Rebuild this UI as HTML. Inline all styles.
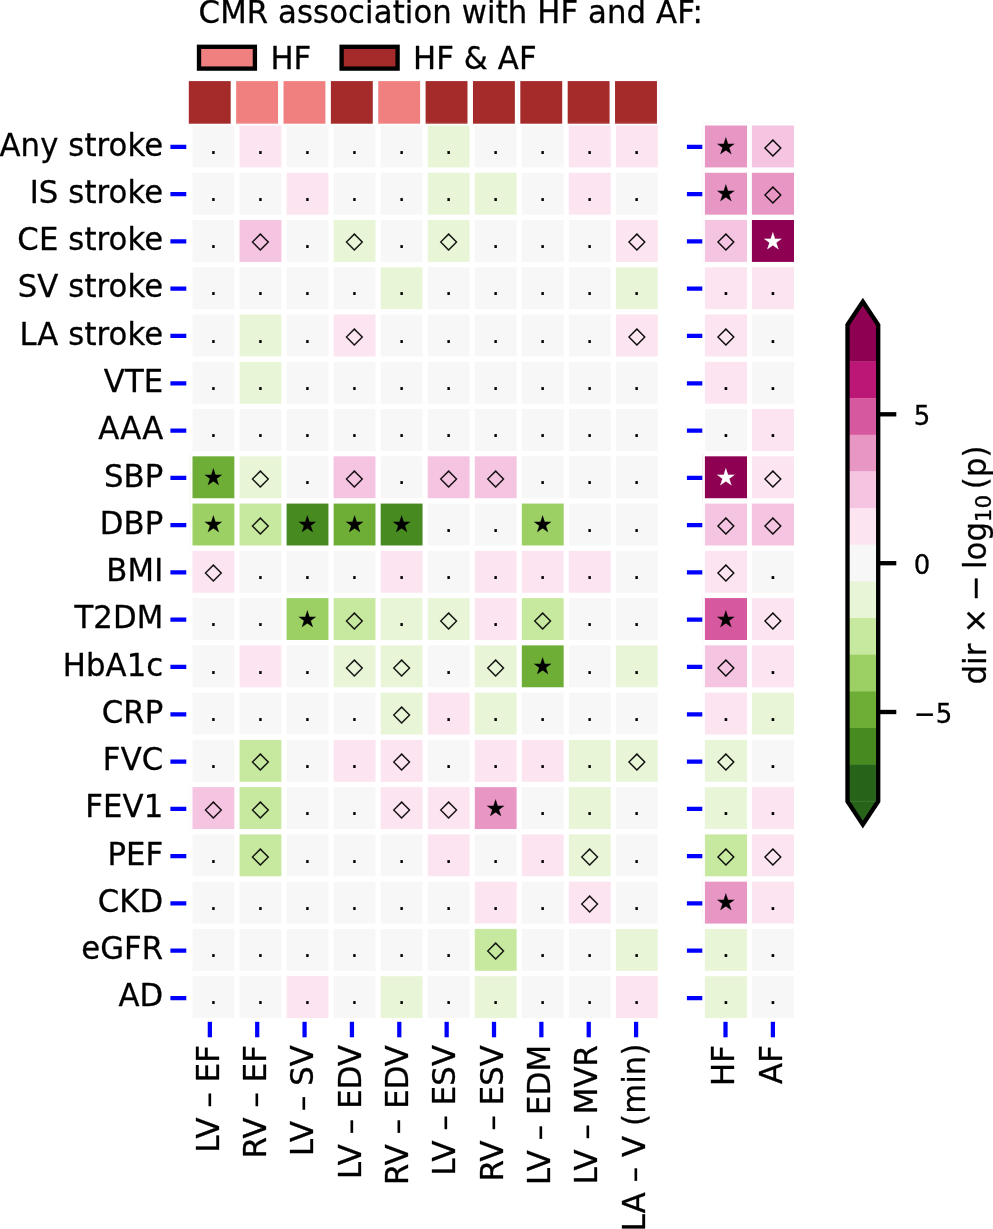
<!DOCTYPE html>
<html lang="en"><head><meta charset="utf-8"><title>CMR association with HF and AF</title>
<style>html,body{margin:0;padding:0;background:#fff}svg{display:block}</style></head>
<body>
<svg width="993" height="1229" viewBox="0 0 993 1229" font-family="'DejaVu Sans', 'Liberation Sans', sans-serif" font-size="30.74" fill="#000" letter-spacing="0.1">
<style>text{stroke:#000;stroke-width:.3px;stroke-linejoin:round}text.w{stroke:#fff}.a text{stroke-width:.15px}</style>
<rect width="993" height="1229" fill="#fff"/>
<text transform="translate(198.6 23) scale(1 1.022)">CMR association with HF and AF:</text>
<rect x="199" y="46.8" width="55.9" height="21.8" fill="#f08080" stroke="#000" stroke-width="4.34"/>
<text transform="translate(270.4 69) scale(1 1.022)">HF</text>
<rect x="341.6" y="46.8" width="56" height="21.8" fill="#a52a2a" stroke="#000" stroke-width="4.34"/>
<text transform="translate(413 69) scale(1 1.022)">HF &amp; AF</text>
<g shape-rendering="auto">
<rect x="188.8" y="81.1" width="41.9" height="42.6" fill="#a52a2a"/>
<rect x="236.16" y="81.1" width="41.9" height="42.6" fill="#f08080"/>
<rect x="283.52" y="81.1" width="41.9" height="42.6" fill="#f08080"/>
<rect x="330.88" y="81.1" width="41.9" height="42.6" fill="#a52a2a"/>
<rect x="378.24" y="81.1" width="41.9" height="42.6" fill="#f08080"/>
<rect x="425.6" y="81.1" width="41.9" height="42.6" fill="#a52a2a"/>
<rect x="472.96" y="81.1" width="41.9" height="42.6" fill="#a52a2a"/>
<rect x="520.32" y="81.1" width="41.9" height="42.6" fill="#a52a2a"/>
<rect x="567.68" y="81.1" width="41.9" height="42.6" fill="#a52a2a"/>
<rect x="615.04" y="81.1" width="41.9" height="42.6" fill="#a52a2a"/>
<rect x="192.5" y="125.5" width="41.85" height="41.9" fill="#f7f7f7"/>
<rect x="239.55" y="125.5" width="41.85" height="41.9" fill="#fce4f0"/>
<rect x="286.59" y="125.5" width="41.85" height="41.9" fill="#f7f7f7"/>
<rect x="333.63" y="125.5" width="41.85" height="41.9" fill="#f7f7f7"/>
<rect x="380.68" y="125.5" width="41.85" height="41.9" fill="#f7f7f7"/>
<rect x="427.73" y="125.5" width="41.85" height="41.9" fill="#e9f5d7"/>
<rect x="474.77" y="125.5" width="41.85" height="41.9" fill="#f7f7f7"/>
<rect x="521.82" y="125.5" width="41.85" height="41.9" fill="#f7f7f7"/>
<rect x="568.86" y="125.5" width="41.85" height="41.9" fill="#fce4f0"/>
<rect x="615.9" y="125.5" width="41.85" height="41.9" fill="#fce4f0"/>
<rect x="704.9" y="125.5" width="42.1" height="41.9" fill="#e896c4"/>
<rect x="751.9" y="125.5" width="42.1" height="41.9" fill="#f5c4e1"/>
<rect x="192.5" y="172.76" width="41.85" height="41.9" fill="#f7f7f7"/>
<rect x="239.55" y="172.76" width="41.85" height="41.9" fill="#f7f7f7"/>
<rect x="286.59" y="172.76" width="41.85" height="41.9" fill="#fce4f0"/>
<rect x="333.63" y="172.76" width="41.85" height="41.9" fill="#f7f7f7"/>
<rect x="380.68" y="172.76" width="41.85" height="41.9" fill="#f7f7f7"/>
<rect x="427.73" y="172.76" width="41.85" height="41.9" fill="#e9f5d7"/>
<rect x="474.77" y="172.76" width="41.85" height="41.9" fill="#e9f5d7"/>
<rect x="521.82" y="172.76" width="41.85" height="41.9" fill="#f7f7f7"/>
<rect x="568.86" y="172.76" width="41.85" height="41.9" fill="#fce4f0"/>
<rect x="615.9" y="172.76" width="41.85" height="41.9" fill="#f7f7f7"/>
<rect x="704.9" y="172.76" width="42.1" height="41.9" fill="#e896c4"/>
<rect x="751.9" y="172.76" width="42.1" height="41.9" fill="#e896c4"/>
<rect x="192.5" y="220.02" width="41.85" height="41.9" fill="#f7f7f7"/>
<rect x="239.55" y="220.02" width="41.85" height="41.9" fill="#f5c4e1"/>
<rect x="286.59" y="220.02" width="41.85" height="41.9" fill="#f7f7f7"/>
<rect x="333.63" y="220.02" width="41.85" height="41.9" fill="#e9f5d7"/>
<rect x="380.68" y="220.02" width="41.85" height="41.9" fill="#f7f7f7"/>
<rect x="427.73" y="220.02" width="41.85" height="41.9" fill="#e9f5d7"/>
<rect x="474.77" y="220.02" width="41.85" height="41.9" fill="#f7f7f7"/>
<rect x="521.82" y="220.02" width="41.85" height="41.9" fill="#f7f7f7"/>
<rect x="568.86" y="220.02" width="41.85" height="41.9" fill="#f7f7f7"/>
<rect x="615.9" y="220.02" width="41.85" height="41.9" fill="#fce4f0"/>
<rect x="704.9" y="220.02" width="42.1" height="41.9" fill="#f5c4e1"/>
<rect x="751.9" y="220.02" width="42.1" height="41.9" fill="#8e0152"/>
<rect x="192.5" y="267.28" width="41.85" height="41.9" fill="#f7f7f7"/>
<rect x="239.55" y="267.28" width="41.85" height="41.9" fill="#f7f7f7"/>
<rect x="286.59" y="267.28" width="41.85" height="41.9" fill="#f7f7f7"/>
<rect x="333.63" y="267.28" width="41.85" height="41.9" fill="#f7f7f7"/>
<rect x="380.68" y="267.28" width="41.85" height="41.9" fill="#e9f5d7"/>
<rect x="427.73" y="267.28" width="41.85" height="41.9" fill="#f7f7f7"/>
<rect x="474.77" y="267.28" width="41.85" height="41.9" fill="#f7f7f7"/>
<rect x="521.82" y="267.28" width="41.85" height="41.9" fill="#f7f7f7"/>
<rect x="568.86" y="267.28" width="41.85" height="41.9" fill="#f7f7f7"/>
<rect x="615.9" y="267.28" width="41.85" height="41.9" fill="#e9f5d7"/>
<rect x="704.9" y="267.28" width="42.1" height="41.9" fill="#fce4f0"/>
<rect x="751.9" y="267.28" width="42.1" height="41.9" fill="#fce4f0"/>
<rect x="192.5" y="314.54" width="41.85" height="41.9" fill="#f7f7f7"/>
<rect x="239.55" y="314.54" width="41.85" height="41.9" fill="#e9f5d7"/>
<rect x="286.59" y="314.54" width="41.85" height="41.9" fill="#f7f7f7"/>
<rect x="333.63" y="314.54" width="41.85" height="41.9" fill="#fce4f0"/>
<rect x="380.68" y="314.54" width="41.85" height="41.9" fill="#f7f7f7"/>
<rect x="427.73" y="314.54" width="41.85" height="41.9" fill="#f7f7f7"/>
<rect x="474.77" y="314.54" width="41.85" height="41.9" fill="#f7f7f7"/>
<rect x="521.82" y="314.54" width="41.85" height="41.9" fill="#f7f7f7"/>
<rect x="568.86" y="314.54" width="41.85" height="41.9" fill="#f7f7f7"/>
<rect x="615.9" y="314.54" width="41.85" height="41.9" fill="#fce4f0"/>
<rect x="704.9" y="314.54" width="42.1" height="41.9" fill="#fce4f0"/>
<rect x="751.9" y="314.54" width="42.1" height="41.9" fill="#f7f7f7"/>
<rect x="192.5" y="361.8" width="41.85" height="41.9" fill="#f7f7f7"/>
<rect x="239.55" y="361.8" width="41.85" height="41.9" fill="#e9f5d7"/>
<rect x="286.59" y="361.8" width="41.85" height="41.9" fill="#f7f7f7"/>
<rect x="333.63" y="361.8" width="41.85" height="41.9" fill="#f7f7f7"/>
<rect x="380.68" y="361.8" width="41.85" height="41.9" fill="#f7f7f7"/>
<rect x="427.73" y="361.8" width="41.85" height="41.9" fill="#f7f7f7"/>
<rect x="474.77" y="361.8" width="41.85" height="41.9" fill="#f7f7f7"/>
<rect x="521.82" y="361.8" width="41.85" height="41.9" fill="#f7f7f7"/>
<rect x="568.86" y="361.8" width="41.85" height="41.9" fill="#f7f7f7"/>
<rect x="615.9" y="361.8" width="41.85" height="41.9" fill="#f7f7f7"/>
<rect x="704.9" y="361.8" width="42.1" height="41.9" fill="#fce4f0"/>
<rect x="751.9" y="361.8" width="42.1" height="41.9" fill="#f7f7f7"/>
<rect x="192.5" y="409.06" width="41.85" height="41.9" fill="#f7f7f7"/>
<rect x="239.55" y="409.06" width="41.85" height="41.9" fill="#f7f7f7"/>
<rect x="286.59" y="409.06" width="41.85" height="41.9" fill="#f7f7f7"/>
<rect x="333.63" y="409.06" width="41.85" height="41.9" fill="#f7f7f7"/>
<rect x="380.68" y="409.06" width="41.85" height="41.9" fill="#f7f7f7"/>
<rect x="427.73" y="409.06" width="41.85" height="41.9" fill="#f7f7f7"/>
<rect x="474.77" y="409.06" width="41.85" height="41.9" fill="#f7f7f7"/>
<rect x="521.82" y="409.06" width="41.85" height="41.9" fill="#f7f7f7"/>
<rect x="568.86" y="409.06" width="41.85" height="41.9" fill="#f7f7f7"/>
<rect x="615.9" y="409.06" width="41.85" height="41.9" fill="#f7f7f7"/>
<rect x="704.9" y="409.06" width="42.1" height="41.9" fill="#f7f7f7"/>
<rect x="751.9" y="409.06" width="42.1" height="41.9" fill="#fce4f0"/>
<rect x="192.5" y="456.32" width="41.85" height="41.9" fill="#6eae36"/>
<rect x="239.55" y="456.32" width="41.85" height="41.9" fill="#e9f5d7"/>
<rect x="286.59" y="456.32" width="41.85" height="41.9" fill="#f7f7f7"/>
<rect x="333.63" y="456.32" width="41.85" height="41.9" fill="#f5c4e1"/>
<rect x="380.68" y="456.32" width="41.85" height="41.9" fill="#f7f7f7"/>
<rect x="427.73" y="456.32" width="41.85" height="41.9" fill="#f5c4e1"/>
<rect x="474.77" y="456.32" width="41.85" height="41.9" fill="#f5c4e1"/>
<rect x="521.82" y="456.32" width="41.85" height="41.9" fill="#f7f7f7"/>
<rect x="568.86" y="456.32" width="41.85" height="41.9" fill="#f7f7f7"/>
<rect x="615.9" y="456.32" width="41.85" height="41.9" fill="#f7f7f7"/>
<rect x="704.9" y="456.32" width="42.1" height="41.9" fill="#8e0152"/>
<rect x="751.9" y="456.32" width="42.1" height="41.9" fill="#fce4f0"/>
<rect x="192.5" y="503.58" width="41.85" height="41.9" fill="#9ccf64"/>
<rect x="239.55" y="503.58" width="41.85" height="41.9" fill="#c7e89f"/>
<rect x="286.59" y="503.58" width="41.85" height="41.9" fill="#478a20"/>
<rect x="333.63" y="503.58" width="41.85" height="41.9" fill="#6eae36"/>
<rect x="380.68" y="503.58" width="41.85" height="41.9" fill="#478a20"/>
<rect x="427.73" y="503.58" width="41.85" height="41.9" fill="#f7f7f7"/>
<rect x="474.77" y="503.58" width="41.85" height="41.9" fill="#f7f7f7"/>
<rect x="521.82" y="503.58" width="41.85" height="41.9" fill="#9ccf64"/>
<rect x="568.86" y="503.58" width="41.85" height="41.9" fill="#f7f7f7"/>
<rect x="615.9" y="503.58" width="41.85" height="41.9" fill="#f7f7f7"/>
<rect x="704.9" y="503.58" width="42.1" height="41.9" fill="#f5c4e1"/>
<rect x="751.9" y="503.58" width="42.1" height="41.9" fill="#f5c4e1"/>
<rect x="192.5" y="550.84" width="41.85" height="41.9" fill="#fce4f0"/>
<rect x="239.55" y="550.84" width="41.85" height="41.9" fill="#f7f7f7"/>
<rect x="286.59" y="550.84" width="41.85" height="41.9" fill="#f7f7f7"/>
<rect x="333.63" y="550.84" width="41.85" height="41.9" fill="#f7f7f7"/>
<rect x="380.68" y="550.84" width="41.85" height="41.9" fill="#fce4f0"/>
<rect x="427.73" y="550.84" width="41.85" height="41.9" fill="#f7f7f7"/>
<rect x="474.77" y="550.84" width="41.85" height="41.9" fill="#fce4f0"/>
<rect x="521.82" y="550.84" width="41.85" height="41.9" fill="#fce4f0"/>
<rect x="568.86" y="550.84" width="41.85" height="41.9" fill="#fce4f0"/>
<rect x="615.9" y="550.84" width="41.85" height="41.9" fill="#f7f7f7"/>
<rect x="704.9" y="550.84" width="42.1" height="41.9" fill="#fce4f0"/>
<rect x="751.9" y="550.84" width="42.1" height="41.9" fill="#f7f7f7"/>
<rect x="192.5" y="598.1" width="41.85" height="41.9" fill="#f7f7f7"/>
<rect x="239.55" y="598.1" width="41.85" height="41.9" fill="#f7f7f7"/>
<rect x="286.59" y="598.1" width="41.85" height="41.9" fill="#9ccf64"/>
<rect x="333.63" y="598.1" width="41.85" height="41.9" fill="#c7e89f"/>
<rect x="380.68" y="598.1" width="41.85" height="41.9" fill="#e9f5d7"/>
<rect x="427.73" y="598.1" width="41.85" height="41.9" fill="#e9f5d7"/>
<rect x="474.77" y="598.1" width="41.85" height="41.9" fill="#fce4f0"/>
<rect x="521.82" y="598.1" width="41.85" height="41.9" fill="#c7e89f"/>
<rect x="568.86" y="598.1" width="41.85" height="41.9" fill="#f7f7f7"/>
<rect x="615.9" y="598.1" width="41.85" height="41.9" fill="#f7f7f7"/>
<rect x="704.9" y="598.1" width="42.1" height="41.9" fill="#d6589e"/>
<rect x="751.9" y="598.1" width="42.1" height="41.9" fill="#fce4f0"/>
<rect x="192.5" y="645.36" width="41.85" height="41.9" fill="#f7f7f7"/>
<rect x="239.55" y="645.36" width="41.85" height="41.9" fill="#fce4f0"/>
<rect x="286.59" y="645.36" width="41.85" height="41.9" fill="#f7f7f7"/>
<rect x="333.63" y="645.36" width="41.85" height="41.9" fill="#e9f5d7"/>
<rect x="380.68" y="645.36" width="41.85" height="41.9" fill="#e9f5d7"/>
<rect x="427.73" y="645.36" width="41.85" height="41.9" fill="#f7f7f7"/>
<rect x="474.77" y="645.36" width="41.85" height="41.9" fill="#e9f5d7"/>
<rect x="521.82" y="645.36" width="41.85" height="41.9" fill="#6eae36"/>
<rect x="568.86" y="645.36" width="41.85" height="41.9" fill="#f7f7f7"/>
<rect x="615.9" y="645.36" width="41.85" height="41.9" fill="#e9f5d7"/>
<rect x="704.9" y="645.36" width="42.1" height="41.9" fill="#f5c4e1"/>
<rect x="751.9" y="645.36" width="42.1" height="41.9" fill="#fce4f0"/>
<rect x="192.5" y="692.62" width="41.85" height="41.9" fill="#f7f7f7"/>
<rect x="239.55" y="692.62" width="41.85" height="41.9" fill="#f7f7f7"/>
<rect x="286.59" y="692.62" width="41.85" height="41.9" fill="#f7f7f7"/>
<rect x="333.63" y="692.62" width="41.85" height="41.9" fill="#f7f7f7"/>
<rect x="380.68" y="692.62" width="41.85" height="41.9" fill="#e9f5d7"/>
<rect x="427.73" y="692.62" width="41.85" height="41.9" fill="#fce4f0"/>
<rect x="474.77" y="692.62" width="41.85" height="41.9" fill="#e9f5d7"/>
<rect x="521.82" y="692.62" width="41.85" height="41.9" fill="#f7f7f7"/>
<rect x="568.86" y="692.62" width="41.85" height="41.9" fill="#f7f7f7"/>
<rect x="615.9" y="692.62" width="41.85" height="41.9" fill="#f7f7f7"/>
<rect x="704.9" y="692.62" width="42.1" height="41.9" fill="#fce4f0"/>
<rect x="751.9" y="692.62" width="42.1" height="41.9" fill="#e9f5d7"/>
<rect x="192.5" y="739.88" width="41.85" height="41.9" fill="#f7f7f7"/>
<rect x="239.55" y="739.88" width="41.85" height="41.9" fill="#c7e89f"/>
<rect x="286.59" y="739.88" width="41.85" height="41.9" fill="#f7f7f7"/>
<rect x="333.63" y="739.88" width="41.85" height="41.9" fill="#fce4f0"/>
<rect x="380.68" y="739.88" width="41.85" height="41.9" fill="#fce4f0"/>
<rect x="427.73" y="739.88" width="41.85" height="41.9" fill="#f7f7f7"/>
<rect x="474.77" y="739.88" width="41.85" height="41.9" fill="#fce4f0"/>
<rect x="521.82" y="739.88" width="41.85" height="41.9" fill="#fce4f0"/>
<rect x="568.86" y="739.88" width="41.85" height="41.9" fill="#e9f5d7"/>
<rect x="615.9" y="739.88" width="41.85" height="41.9" fill="#e9f5d7"/>
<rect x="704.9" y="739.88" width="42.1" height="41.9" fill="#e9f5d7"/>
<rect x="751.9" y="739.88" width="42.1" height="41.9" fill="#f7f7f7"/>
<rect x="192.5" y="787.14" width="41.85" height="41.9" fill="#f5c4e1"/>
<rect x="239.55" y="787.14" width="41.85" height="41.9" fill="#c7e89f"/>
<rect x="286.59" y="787.14" width="41.85" height="41.9" fill="#f7f7f7"/>
<rect x="333.63" y="787.14" width="41.85" height="41.9" fill="#f7f7f7"/>
<rect x="380.68" y="787.14" width="41.85" height="41.9" fill="#fce4f0"/>
<rect x="427.73" y="787.14" width="41.85" height="41.9" fill="#fce4f0"/>
<rect x="474.77" y="787.14" width="41.85" height="41.9" fill="#e896c4"/>
<rect x="521.82" y="787.14" width="41.85" height="41.9" fill="#f7f7f7"/>
<rect x="568.86" y="787.14" width="41.85" height="41.9" fill="#e9f5d7"/>
<rect x="615.9" y="787.14" width="41.85" height="41.9" fill="#f7f7f7"/>
<rect x="704.9" y="787.14" width="42.1" height="41.9" fill="#e9f5d7"/>
<rect x="751.9" y="787.14" width="42.1" height="41.9" fill="#fce4f0"/>
<rect x="192.5" y="834.4" width="41.85" height="41.9" fill="#f7f7f7"/>
<rect x="239.55" y="834.4" width="41.85" height="41.9" fill="#c7e89f"/>
<rect x="286.59" y="834.4" width="41.85" height="41.9" fill="#f7f7f7"/>
<rect x="333.63" y="834.4" width="41.85" height="41.9" fill="#f7f7f7"/>
<rect x="380.68" y="834.4" width="41.85" height="41.9" fill="#f7f7f7"/>
<rect x="427.73" y="834.4" width="41.85" height="41.9" fill="#fce4f0"/>
<rect x="474.77" y="834.4" width="41.85" height="41.9" fill="#f7f7f7"/>
<rect x="521.82" y="834.4" width="41.85" height="41.9" fill="#fce4f0"/>
<rect x="568.86" y="834.4" width="41.85" height="41.9" fill="#e9f5d7"/>
<rect x="615.9" y="834.4" width="41.85" height="41.9" fill="#f7f7f7"/>
<rect x="704.9" y="834.4" width="42.1" height="41.9" fill="#c7e89f"/>
<rect x="751.9" y="834.4" width="42.1" height="41.9" fill="#fce4f0"/>
<rect x="192.5" y="881.66" width="41.85" height="41.9" fill="#f7f7f7"/>
<rect x="239.55" y="881.66" width="41.85" height="41.9" fill="#f7f7f7"/>
<rect x="286.59" y="881.66" width="41.85" height="41.9" fill="#f7f7f7"/>
<rect x="333.63" y="881.66" width="41.85" height="41.9" fill="#f7f7f7"/>
<rect x="380.68" y="881.66" width="41.85" height="41.9" fill="#f7f7f7"/>
<rect x="427.73" y="881.66" width="41.85" height="41.9" fill="#f7f7f7"/>
<rect x="474.77" y="881.66" width="41.85" height="41.9" fill="#fce4f0"/>
<rect x="521.82" y="881.66" width="41.85" height="41.9" fill="#f7f7f7"/>
<rect x="568.86" y="881.66" width="41.85" height="41.9" fill="#fce4f0"/>
<rect x="615.9" y="881.66" width="41.85" height="41.9" fill="#f7f7f7"/>
<rect x="704.9" y="881.66" width="42.1" height="41.9" fill="#e896c4"/>
<rect x="751.9" y="881.66" width="42.1" height="41.9" fill="#fce4f0"/>
<rect x="192.5" y="928.92" width="41.85" height="41.9" fill="#f7f7f7"/>
<rect x="239.55" y="928.92" width="41.85" height="41.9" fill="#f7f7f7"/>
<rect x="286.59" y="928.92" width="41.85" height="41.9" fill="#f7f7f7"/>
<rect x="333.63" y="928.92" width="41.85" height="41.9" fill="#f7f7f7"/>
<rect x="380.68" y="928.92" width="41.85" height="41.9" fill="#f7f7f7"/>
<rect x="427.73" y="928.92" width="41.85" height="41.9" fill="#f7f7f7"/>
<rect x="474.77" y="928.92" width="41.85" height="41.9" fill="#c7e89f"/>
<rect x="521.82" y="928.92" width="41.85" height="41.9" fill="#f7f7f7"/>
<rect x="568.86" y="928.92" width="41.85" height="41.9" fill="#f7f7f7"/>
<rect x="615.9" y="928.92" width="41.85" height="41.9" fill="#e9f5d7"/>
<rect x="704.9" y="928.92" width="42.1" height="41.9" fill="#e9f5d7"/>
<rect x="751.9" y="928.92" width="42.1" height="41.9" fill="#f7f7f7"/>
<rect x="192.5" y="976.18" width="41.85" height="41.9" fill="#f7f7f7"/>
<rect x="239.55" y="976.18" width="41.85" height="41.9" fill="#f7f7f7"/>
<rect x="286.59" y="976.18" width="41.85" height="41.9" fill="#fce4f0"/>
<rect x="333.63" y="976.18" width="41.85" height="41.9" fill="#f7f7f7"/>
<rect x="380.68" y="976.18" width="41.85" height="41.9" fill="#e9f5d7"/>
<rect x="427.73" y="976.18" width="41.85" height="41.9" fill="#f7f7f7"/>
<rect x="474.77" y="976.18" width="41.85" height="41.9" fill="#e9f5d7"/>
<rect x="521.82" y="976.18" width="41.85" height="41.9" fill="#f7f7f7"/>
<rect x="568.86" y="976.18" width="41.85" height="41.9" fill="#f7f7f7"/>
<rect x="615.9" y="976.18" width="41.85" height="41.9" fill="#fce4f0"/>
<rect x="704.9" y="976.18" width="42.1" height="41.9" fill="#e9f5d7"/>
<rect x="751.9" y="976.18" width="42.1" height="41.9" fill="#f7f7f7"/>
</g>
<g stroke-opacity="0.13" stroke-width="0.8" fill="none">
<path d="M702.6 122.85 V170.05" stroke="#e896c4"/>
<path d="M702.6 170.11 V217.31" stroke="#e896c4"/>
<path d="M702.6 217.37 V264.57" stroke="#f5c4e1"/>
<path d="M702.6 264.63 V311.83" stroke="#fce4f0"/>
<path d="M702.6 311.89 V359.09" stroke="#fce4f0"/>
<path d="M702.6 359.15 V406.35" stroke="#fce4f0"/>
<path d="M190.2 453.67 V500.87" stroke="#6eae36"/>
<path d="M702.6 453.67 V500.87" stroke="#8e0152"/>
<path d="M190.2 500.93 V548.13" stroke="#9ccf64"/>
<path d="M702.6 500.93 V548.13" stroke="#f5c4e1"/>
<path d="M190.2 548.19 V595.39" stroke="#fce4f0"/>
<path d="M702.6 548.19 V595.39" stroke="#fce4f0"/>
<path d="M702.6 595.45 V642.65" stroke="#d6589e"/>
<path d="M702.6 642.71 V689.91" stroke="#f5c4e1"/>
<path d="M702.6 689.97 V737.17" stroke="#fce4f0"/>
<path d="M702.6 737.23 V784.43" stroke="#e9f5d7"/>
<path d="M190.2 784.49 V831.69" stroke="#f5c4e1"/>
<path d="M702.6 784.49 V831.69" stroke="#e9f5d7"/>
<path d="M702.6 831.75 V878.95" stroke="#c7e89f"/>
<path d="M702.6 879.01 V926.21" stroke="#e896c4"/>
<path d="M702.6 926.27 V973.47" stroke="#e9f5d7"/>
<path d="M702.6 973.53 V1020.73" stroke="#e9f5d7"/>
<path d="M236.95 122.8 H284" stroke="#fce4f0"/>
<path d="M425.12 122.8 H472.18" stroke="#e9f5d7"/>
<path d="M566.26 122.8 H613.31" stroke="#fce4f0"/>
<path d="M613.3 122.8 H660.36" stroke="#fce4f0"/>
<path d="M702.3 122.8 H749.6" stroke="#e896c4"/>
<path d="M749.3 122.8 H796.6" stroke="#f5c4e1"/>
</g>
<g class="a" font-size="23.1" text-anchor="middle">
<text x="213.43" y="153.65">.</text>
<text x="260.47" y="153.65">.</text>
<text x="307.52" y="153.65">.</text>
<text x="354.56" y="153.65">.</text>
<text x="401.61" y="153.65">.</text>
<text x="448.65" y="153.65">.</text>
<text x="495.69" y="153.65">.</text>
<text x="542.74" y="153.65">.</text>
<text x="589.78" y="153.65">.</text>
<text x="636.83" y="153.65">.</text>
<text x="725.95" y="154.05">★</text>
<text x="772.95" y="153.95">◇</text>
<text x="213.43" y="200.91">.</text>
<text x="260.47" y="200.91">.</text>
<text x="307.52" y="200.91">.</text>
<text x="354.56" y="200.91">.</text>
<text x="401.61" y="200.91">.</text>
<text x="448.65" y="200.91">.</text>
<text x="495.69" y="200.91">.</text>
<text x="542.74" y="200.91">.</text>
<text x="589.78" y="200.91">.</text>
<text x="636.83" y="200.91">.</text>
<text x="725.95" y="201.31">★</text>
<text x="772.95" y="201.21">◇</text>
<text x="213.43" y="248.17">.</text>
<text x="260.47" y="248.47">◇</text>
<text x="307.52" y="248.17">.</text>
<text x="354.56" y="248.47">◇</text>
<text x="401.61" y="248.17">.</text>
<text x="448.65" y="248.47">◇</text>
<text x="495.69" y="248.17">.</text>
<text x="542.74" y="248.17">.</text>
<text x="589.78" y="248.17">.</text>
<text x="636.83" y="248.47">◇</text>
<text x="725.95" y="248.47">◇</text>
<text x="772.95" y="248.57" fill="#fff" class="w">★</text>
<text x="213.43" y="295.43">.</text>
<text x="260.47" y="295.43">.</text>
<text x="307.52" y="295.43">.</text>
<text x="354.56" y="295.43">.</text>
<text x="401.61" y="295.43">.</text>
<text x="448.65" y="295.43">.</text>
<text x="495.69" y="295.43">.</text>
<text x="542.74" y="295.43">.</text>
<text x="589.78" y="295.43">.</text>
<text x="636.83" y="295.43">.</text>
<text x="725.95" y="295.43">.</text>
<text x="772.95" y="295.43">.</text>
<text x="213.43" y="342.69">.</text>
<text x="260.47" y="342.69">.</text>
<text x="307.52" y="342.69">.</text>
<text x="354.56" y="342.99">◇</text>
<text x="401.61" y="342.69">.</text>
<text x="448.65" y="342.69">.</text>
<text x="495.69" y="342.69">.</text>
<text x="542.74" y="342.69">.</text>
<text x="589.78" y="342.69">.</text>
<text x="636.83" y="342.99">◇</text>
<text x="725.95" y="342.99">◇</text>
<text x="772.95" y="342.69">.</text>
<text x="213.43" y="389.95">.</text>
<text x="260.47" y="389.95">.</text>
<text x="307.52" y="389.95">.</text>
<text x="354.56" y="389.95">.</text>
<text x="401.61" y="389.95">.</text>
<text x="448.65" y="389.95">.</text>
<text x="495.69" y="389.95">.</text>
<text x="542.74" y="389.95">.</text>
<text x="589.78" y="389.95">.</text>
<text x="636.83" y="389.95">.</text>
<text x="725.95" y="389.95">.</text>
<text x="772.95" y="389.95">.</text>
<text x="213.43" y="437.21">.</text>
<text x="260.47" y="437.21">.</text>
<text x="307.52" y="437.21">.</text>
<text x="354.56" y="437.21">.</text>
<text x="401.61" y="437.21">.</text>
<text x="448.65" y="437.21">.</text>
<text x="495.69" y="437.21">.</text>
<text x="542.74" y="437.21">.</text>
<text x="589.78" y="437.21">.</text>
<text x="636.83" y="437.21">.</text>
<text x="725.95" y="437.21">.</text>
<text x="772.95" y="437.21">.</text>
<text x="213.43" y="484.87">★</text>
<text x="260.47" y="484.77">◇</text>
<text x="307.52" y="484.47">.</text>
<text x="354.56" y="484.77">◇</text>
<text x="401.61" y="484.47">.</text>
<text x="448.65" y="484.77">◇</text>
<text x="495.69" y="484.77">◇</text>
<text x="542.74" y="484.47">.</text>
<text x="589.78" y="484.47">.</text>
<text x="636.83" y="484.47">.</text>
<text x="725.95" y="484.87" fill="#fff" class="w">★</text>
<text x="772.95" y="484.77">◇</text>
<text x="213.43" y="532.13">★</text>
<text x="260.47" y="532.03">◇</text>
<text x="307.52" y="532.13">★</text>
<text x="354.56" y="532.13">★</text>
<text x="401.61" y="532.13">★</text>
<text x="448.65" y="531.73">.</text>
<text x="495.69" y="531.73">.</text>
<text x="542.74" y="532.13">★</text>
<text x="589.78" y="531.73">.</text>
<text x="636.83" y="531.73">.</text>
<text x="725.95" y="532.03">◇</text>
<text x="772.95" y="532.03">◇</text>
<text x="213.43" y="579.29">◇</text>
<text x="260.47" y="578.99">.</text>
<text x="307.52" y="578.99">.</text>
<text x="354.56" y="578.99">.</text>
<text x="401.61" y="578.99">.</text>
<text x="448.65" y="578.99">.</text>
<text x="495.69" y="578.99">.</text>
<text x="542.74" y="578.99">.</text>
<text x="589.78" y="578.99">.</text>
<text x="636.83" y="578.99">.</text>
<text x="725.95" y="579.29">◇</text>
<text x="772.95" y="578.99">.</text>
<text x="213.43" y="626.25">.</text>
<text x="260.47" y="626.25">.</text>
<text x="307.52" y="626.65">★</text>
<text x="354.56" y="626.55">◇</text>
<text x="401.61" y="626.25">.</text>
<text x="448.65" y="626.55">◇</text>
<text x="495.69" y="626.25">.</text>
<text x="542.74" y="626.55">◇</text>
<text x="589.78" y="626.25">.</text>
<text x="636.83" y="626.25">.</text>
<text x="725.95" y="626.65">★</text>
<text x="772.95" y="626.55">◇</text>
<text x="213.43" y="673.51">.</text>
<text x="260.47" y="673.51">.</text>
<text x="307.52" y="673.51">.</text>
<text x="354.56" y="673.81">◇</text>
<text x="401.61" y="673.81">◇</text>
<text x="448.65" y="673.51">.</text>
<text x="495.69" y="673.81">◇</text>
<text x="542.74" y="673.91">★</text>
<text x="589.78" y="673.51">.</text>
<text x="636.83" y="673.51">.</text>
<text x="725.95" y="673.81">◇</text>
<text x="772.95" y="673.51">.</text>
<text x="213.43" y="720.77">.</text>
<text x="260.47" y="720.77">.</text>
<text x="307.52" y="720.77">.</text>
<text x="354.56" y="720.77">.</text>
<text x="401.61" y="721.07">◇</text>
<text x="448.65" y="720.77">.</text>
<text x="495.69" y="720.77">.</text>
<text x="542.74" y="720.77">.</text>
<text x="589.78" y="720.77">.</text>
<text x="636.83" y="720.77">.</text>
<text x="725.95" y="720.77">.</text>
<text x="772.95" y="720.77">.</text>
<text x="213.43" y="768.03">.</text>
<text x="260.47" y="768.33">◇</text>
<text x="307.52" y="768.03">.</text>
<text x="354.56" y="768.03">.</text>
<text x="401.61" y="768.33">◇</text>
<text x="448.65" y="768.03">.</text>
<text x="495.69" y="768.03">.</text>
<text x="542.74" y="768.03">.</text>
<text x="589.78" y="768.03">.</text>
<text x="636.83" y="768.33">◇</text>
<text x="725.95" y="768.33">◇</text>
<text x="772.95" y="768.03">.</text>
<text x="213.43" y="815.59">◇</text>
<text x="260.47" y="815.59">◇</text>
<text x="307.52" y="815.29">.</text>
<text x="354.56" y="815.29">.</text>
<text x="401.61" y="815.59">◇</text>
<text x="448.65" y="815.59">◇</text>
<text x="495.69" y="815.69">★</text>
<text x="542.74" y="815.29">.</text>
<text x="589.78" y="815.29">.</text>
<text x="636.83" y="815.29">.</text>
<text x="725.95" y="815.29">.</text>
<text x="772.95" y="815.29">.</text>
<text x="213.43" y="862.55">.</text>
<text x="260.47" y="862.85">◇</text>
<text x="307.52" y="862.55">.</text>
<text x="354.56" y="862.55">.</text>
<text x="401.61" y="862.55">.</text>
<text x="448.65" y="862.55">.</text>
<text x="495.69" y="862.55">.</text>
<text x="542.74" y="862.55">.</text>
<text x="589.78" y="862.85">◇</text>
<text x="636.83" y="862.55">.</text>
<text x="725.95" y="862.85">◇</text>
<text x="772.95" y="862.85">◇</text>
<text x="213.43" y="909.81">.</text>
<text x="260.47" y="909.81">.</text>
<text x="307.52" y="909.81">.</text>
<text x="354.56" y="909.81">.</text>
<text x="401.61" y="909.81">.</text>
<text x="448.65" y="909.81">.</text>
<text x="495.69" y="909.81">.</text>
<text x="542.74" y="909.81">.</text>
<text x="589.78" y="910.11">◇</text>
<text x="636.83" y="909.81">.</text>
<text x="725.95" y="910.21">★</text>
<text x="772.95" y="909.81">.</text>
<text x="213.43" y="957.07">.</text>
<text x="260.47" y="957.07">.</text>
<text x="307.52" y="957.07">.</text>
<text x="354.56" y="957.07">.</text>
<text x="401.61" y="957.07">.</text>
<text x="448.65" y="957.07">.</text>
<text x="495.69" y="957.37">◇</text>
<text x="542.74" y="957.07">.</text>
<text x="589.78" y="957.07">.</text>
<text x="636.83" y="957.07">.</text>
<text x="725.95" y="957.07">.</text>
<text x="772.95" y="957.07">.</text>
<text x="213.43" y="1004.33">.</text>
<text x="260.47" y="1004.33">.</text>
<text x="307.52" y="1004.33">.</text>
<text x="354.56" y="1004.33">.</text>
<text x="401.61" y="1004.33">.</text>
<text x="448.65" y="1004.33">.</text>
<text x="495.69" y="1004.33">.</text>
<text x="542.74" y="1004.33">.</text>
<text x="589.78" y="1004.33">.</text>
<text x="636.83" y="1004.33">.</text>
<text x="725.95" y="1004.33">.</text>
<text x="772.95" y="1004.33">.</text>
</g>
<g stroke="#0000ff" stroke-width="4.25" fill="none">
<path d="M170.4 146.8 H186.3 M686.9 146.8 H702.3"/>
<path d="M170.4 194.09 H186.3 M686.9 194.09 H702.3"/>
<path d="M170.4 241.38 H186.3 M686.9 241.38 H702.3"/>
<path d="M170.4 288.67 H186.3 M686.9 288.67 H702.3"/>
<path d="M170.4 335.96 H186.3 M686.9 335.96 H702.3"/>
<path d="M170.4 383.25 H186.3 M686.9 383.25 H702.3"/>
<path d="M170.4 430.54 H186.3 M686.9 430.54 H702.3"/>
<path d="M170.4 477.83 H186.3 M686.9 477.83 H702.3"/>
<path d="M170.4 525.12 H186.3 M686.9 525.12 H702.3"/>
<path d="M170.4 572.41 H186.3 M686.9 572.41 H702.3"/>
<path d="M170.4 619.7 H186.3 M686.9 619.7 H702.3"/>
<path d="M170.4 666.99 H186.3 M686.9 666.99 H702.3"/>
<path d="M170.4 714.28 H186.3 M686.9 714.28 H702.3"/>
<path d="M170.4 761.57 H186.3 M686.9 761.57 H702.3"/>
<path d="M170.4 808.86 H186.3 M686.9 808.86 H702.3"/>
<path d="M170.4 856.15 H186.3 M686.9 856.15 H702.3"/>
<path d="M170.4 903.44 H186.3 M686.9 903.44 H702.3"/>
<path d="M170.4 950.73 H186.3 M686.9 950.73 H702.3"/>
<path d="M170.4 998.02 H186.3 M686.9 998.02 H702.3"/>
<path d="M209.85 1021.8 V1037.3"/>
<path d="M257.21 1021.8 V1037.3"/>
<path d="M304.57 1021.8 V1037.3"/>
<path d="M351.93 1021.8 V1037.3"/>
<path d="M399.29 1021.8 V1037.3"/>
<path d="M446.65 1021.8 V1037.3"/>
<path d="M494.01 1021.8 V1037.3"/>
<path d="M541.37 1021.8 V1037.3"/>
<path d="M588.73 1021.8 V1037.3"/>
<path d="M636.09 1021.8 V1037.3"/>
<path d="M725.5 1021.8 V1037.3"/>
<path d="M772.9 1021.8 V1037.3"/>
</g>
<g text-anchor="end">
<text transform="translate(163.3 155.7) scale(1 1.022)">Any stroke</text>
<text transform="translate(163.3 202.96) scale(1 1.022)">IS stroke</text>
<text transform="translate(163.3 250.22) scale(1 1.022)">CE stroke</text>
<text transform="translate(163.3 297.48) scale(1 1.022)">SV stroke</text>
<text transform="translate(163.3 344.74) scale(1 1.022)">LA stroke</text>
<text transform="translate(163.3 392) scale(1 1.022)">VTE</text>
<text transform="translate(163.3 439.26) scale(1 1.022)">AAA</text>
<text transform="translate(163.3 486.52) scale(1 1.022)">SBP</text>
<text transform="translate(163.3 533.78) scale(1 1.022)">DBP</text>
<text transform="translate(163.3 581.04) scale(1 1.022)">BMI</text>
<text transform="translate(163.3 628.3) scale(1 1.022)">T2DM</text>
<text transform="translate(163.3 675.56) scale(1 1.022)">HbA1c</text>
<text transform="translate(163.3 722.82) scale(1 1.022)">CRP</text>
<text transform="translate(163.3 770.08) scale(1 1.022)">FVC</text>
<text transform="translate(163.3 817.34) scale(1 1.022)">FEV1</text>
<text transform="translate(163.3 864.6) scale(1 1.022)">PEF</text>
<text transform="translate(163.3 911.86) scale(1 1.022)">CKD</text>
<text transform="translate(163.3 959.12) scale(1 1.022)">eGFR</text>
<text transform="translate(163.3 1006.38) scale(1 1.022)">AD</text>
</g>
<g text-anchor="end">
<text transform="translate(218.6 1045) rotate(-90) scale(1 1.022)">LV – EF</text>
<text transform="translate(265.96 1045) rotate(-90) scale(1 1.022)">RV – EF</text>
<text transform="translate(313.32 1045) rotate(-90) scale(1 1.022)">LV – SV</text>
<text transform="translate(360.68 1045) rotate(-90) scale(1 1.022)">LV – EDV</text>
<text transform="translate(408.04 1045) rotate(-90) scale(1 1.022)">RV – EDV</text>
<text transform="translate(455.4 1045) rotate(-90) scale(1 1.022)">LV – ESV</text>
<text transform="translate(502.76 1045) rotate(-90) scale(1 1.022)">RV – ESV</text>
<text transform="translate(550.12 1045) rotate(-90) scale(1 1.022)">LV – EDM</text>
<text transform="translate(597.48 1045) rotate(-90) scale(1 1.022)">LV – MVR</text>
<text transform="translate(644.84 1043.5) rotate(-90) scale(1 1.022)">LA – V (min)</text>
<text transform="translate(734.1 1045) rotate(-90) scale(1 1.022)">HF</text>
<text transform="translate(781.8 1045) rotate(-90) scale(1 1.022)">AF</text>
</g>
<path d="M847.5 325.3 L862.85 301.7 L878.2 325.3 Z" fill="#8e0152"/>
<path d="M847.5 800.75 L862.85 824.65 L878.2 800.75 Z" fill="#276419"/>
<rect x="847.5" y="324.8" width="30.7" height="36.95" fill="#8e0152"/>
<rect x="847.5" y="361.45" width="30.7" height="36.95" fill="#bc1776"/>
<rect x="847.5" y="398.1" width="30.7" height="36.95" fill="#d6589e"/>
<rect x="847.5" y="434.75" width="30.7" height="36.95" fill="#e896c4"/>
<rect x="847.5" y="471.4" width="30.7" height="36.95" fill="#f5c4e1"/>
<rect x="847.5" y="508.05" width="30.7" height="36.95" fill="#fce4f0"/>
<rect x="847.5" y="544.7" width="30.7" height="36.95" fill="#f7f7f7"/>
<rect x="847.5" y="581.35" width="30.7" height="36.95" fill="#e9f5d7"/>
<rect x="847.5" y="618" width="30.7" height="36.95" fill="#c7e89f"/>
<rect x="847.5" y="654.65" width="30.7" height="36.95" fill="#9ccf64"/>
<rect x="847.5" y="691.3" width="30.7" height="36.95" fill="#6eae36"/>
<rect x="847.5" y="727.95" width="30.7" height="36.95" fill="#478a20"/>
<rect x="847.5" y="764.6" width="30.7" height="36.95" fill="#276419"/>
<path d="M847.5 324.8 L862.85 301.7 L878.2 324.8 L878.2 801.25 L862.85 824.65 L847.5 801.25 Z" fill="none" stroke="#000" stroke-width="4.34" stroke-linejoin="miter" stroke-miterlimit="10"/>
<path d="M849.7 801.35 H876" stroke="#fff" stroke-opacity="0.15" stroke-width="0.8"/>
<g stroke="#000" stroke-width="4.34">
<path d="M878.2 414.3 H896.3"/>
<path d="M878.2 563.2 H896.3"/>
<path d="M878.2 712 H896.3"/>
</g>
<g font-size="26">
<text transform="translate(913.8 425.2) scale(1 1.022)">5</text>
<text transform="translate(913.8 574.1) scale(1 1.022)">0</text>
<text transform="translate(913.8 722.9) scale(1 1.022)">−5</text>
</g>
<text transform="translate(986.4 684.5) rotate(-90) scale(1 1.022)"><tspan x="0">dir </tspan><tspan x="51.05">× </tspan><tspan x="83.35">− </tspan><tspan x="115.4">log</tspan><tspan x="162.3" dy="4.6" font-size="21.5">10 </tspan><tspan x="195.3" dy="-4.6">(p)</tspan></text>
</svg>
</body></html>
